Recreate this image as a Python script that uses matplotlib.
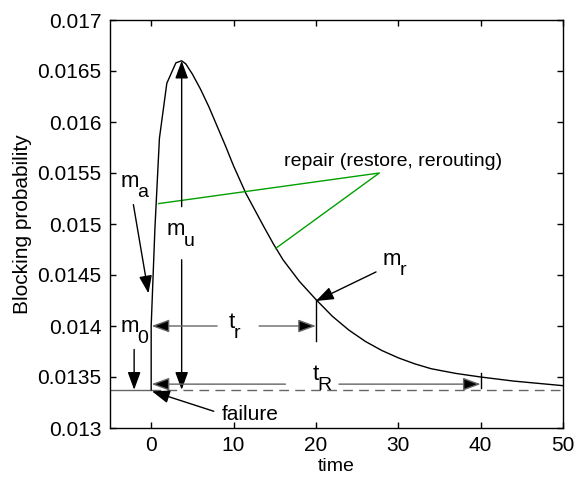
import matplotlib
matplotlib.use("Agg")
import matplotlib.pyplot as plt

plt.rcParams['font.family'] = ['Liberation Sans', 'DejaVu Sans']

# blocking probability after a failure at t=0
time_pts = [0, 0, 0.45, 1.0, 1.9, 3.0, 3.7, 4.2, 5, 6, 7, 8, 9, 10, 11.5, 13.7,
            14.8, 16, 18, 20, 22, 24, 26, 28, 30, 32, 34, 37, 40, 44, 50]
block_prob = [0.013375, 0.0140, 0.01495, 0.01584, 0.01638, 0.01658, 0.01660, 0.01657,
              0.01647, 0.01632, 0.01615, 0.01596, 0.01577, 0.01557, 0.01530, 0.01497,
              0.01481, 0.01465, 0.014437, 0.01426, 0.014095, 0.01396, 0.013849, 0.01376,
              0.013688, 0.013629, 0.013581, 0.013535, 0.01350, 0.01346, 0.013415]

m_0 = 0.013375      # steady state level
m_u = 0.0166        # peak
t_peak = 3.7
t_r = 20            # repair time
m_r = 0.014255      # level at repair
t_R = 40            # recovery time

x_ticks = [0, 10, 20, 30, 40, 50]
y_ticks = [0.013, 0.0135, 0.014, 0.0145, 0.015, 0.0155, 0.016, 0.0165, 0.017]
y_tick_labels = ['0.013', '0.0135', '0.014', '0.0145', '0.015', '0.0155', '0.016', '0.0165', '0.017']

GRAY = '0.4'
GREEN = '#00a000'

fig = plt.figure(figsize=(5.76, 4.78), dpi=100)
ax = fig.add_axes([110/576, 1 - 428/478, 453/576, 408/478])

# baseline and curve
ax.plot([-5, 0], [m_0, m_0], color=GRAY, lw=1)
ax.plot([0, 50], [m_0, m_0], color=GRAY, lw=1, dashes=(7, 4.5))
ax.plot(time_pts, block_prob, color='k', lw=1)


def arrow(xy, xytext, shaft='k'):
    ax.annotate('', xy=xy, xytext=xytext,
                arrowprops=dict(arrowstyle='-|>,head_length=0.6,head_width=0.22',
                                mutation_scale=18, fc='k', ec=shaft, lw=1,
                                shrinkA=0, shrinkB=0))


# matlab style label: letter with a big, low subscript
def sub_label(x, y, main, sub):
    t = ax.text(x, y, main, ha='left', va='baseline', fontsize=16)
    ax.annotate(sub, xy=(1, y), xycoords=(t, 'data'), xytext=(-1, -7.5),
                textcoords='offset points', ha='left', va='baseline', fontsize=14)


# m_u double arrow with label in the gap
arrow((t_peak, m_u), (t_peak, 0.01517))
arrow((t_peak, m_0), (t_peak, 0.01465))
sub_label(1.85, 0.01489, 'm', 'u')

# m_a
arrow((-0.33, 0.01432), (-2.16, 0.01519))
sub_label(-3.75, 0.015366, 'm', 'a')

# m_0
arrow((-2.07, m_0), (-2.07, 0.01377))
sub_label(-3.75, 0.01394, 'm', '0')

# t_r
arrow((0.05, 0.0140), (8.0, 0.0140), shaft=GRAY)
arrow((t_r, 0.0140), (13.1, 0.0140), shaft=GRAY)
sub_label(9.4, 0.01398, 't', 'r')
ax.plot([t_r, t_r], [m_r, 0.01385], color='k', lw=1)

# m_r
arrow((t_r, m_r - 0.00001), (27.3, 0.01453))
sub_label(28.1, 0.01460, 'm', 'r')

# t_R
arrow((0.05, 0.01343), (16.3, 0.01343), shaft=GRAY)
arrow((t_R, 0.01343), (22.8, 0.01343), shaft=GRAY)
sub_label(19.6, 0.01347, 't', 'R')
ax.plot([t_R, t_R], [0.01339, 0.01354], color='k', lw=1)

# failure
arrow((0.1, 0.01336), (7.6, 0.013164))
ax.text(8.6, 0.01308, 'failure', ha='left', va='baseline', fontsize=15)

# repair
ax.plot([0.9, 27.7, 15.1], [0.01520, 0.01550, 0.01476], color=GREEN, lw=1)
ax.text(16.1, 0.01557, 'repair (restore, rerouting)', ha='left', va='baseline', fontsize=14)

ax.set_xlim(-5, 50)
ax.set_ylim(0.013, 0.017)
ax.set_xticks(x_ticks)
ax.set_yticks(y_ticks)
ax.set_yticklabels(y_tick_labels)
ax.tick_params(direction='in', length=4, width=1, top=True, right=True,
               labelsize=15, pad=6)
for s in ax.spines.values():
    s.set_linewidth(1)
ax.set_xlabel('time', fontsize=14, labelpad=2)
ax.set_ylabel('Blocking probability', fontsize=15, labelpad=4)

fig.savefig('out.png', dpi=100)
